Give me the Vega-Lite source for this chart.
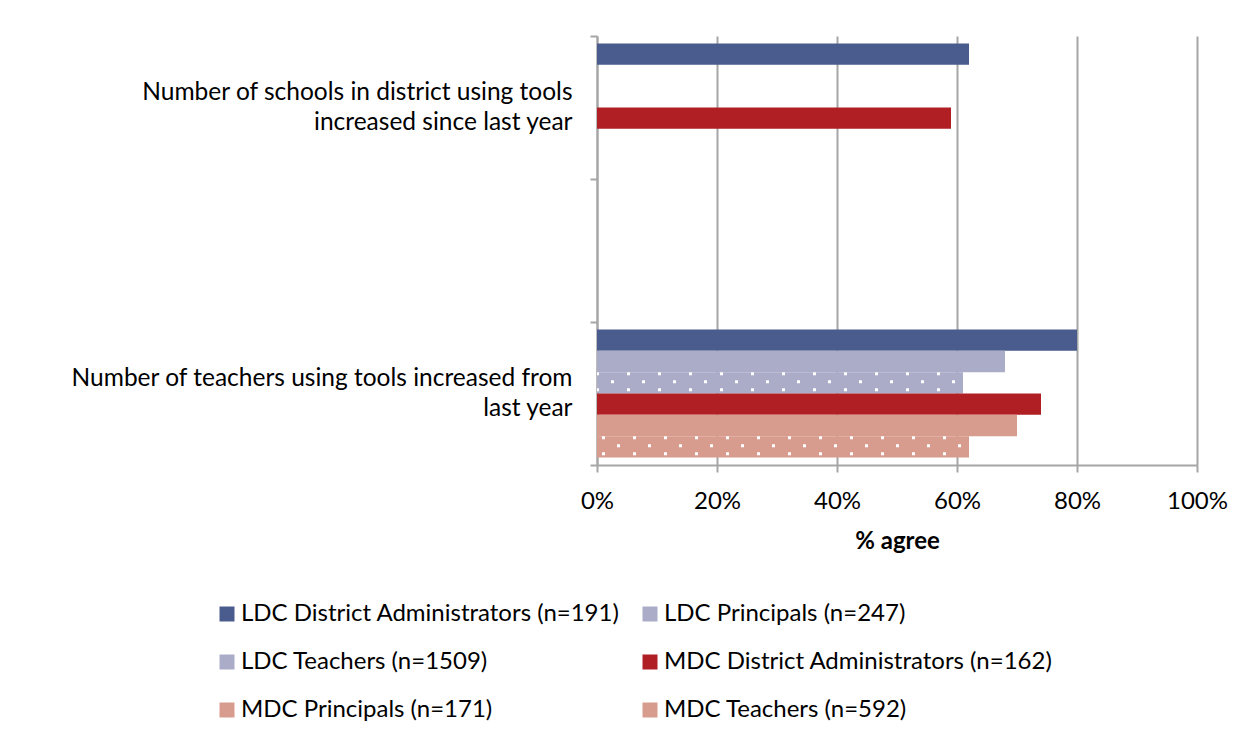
{
  "$schema": "https://vega.github.io/schema/vega-lite/v6.json",
  "width": 600,
  "height": 429,
  "autosize": {"type": "none"},
  "padding": {"left": 597, "top": 36, "right": 52, "bottom": 277},
  "background": "white",
  "config": {
    "font": "Lato",
    "view": {"stroke": null},
    "axis": {"labelColor": "#000000", "titleColor": "#000000", "domainColor": "#A6A6A6", "domainWidth": 2, "tickColor": "#A6A6A6", "tickWidth": 2, "gridColor": "#A6A6A6", "gridWidth": 2}
  },
  "data": {
    "values": [
      {"question": "Number of schools in district using tools|increased since last year", "series": "LDC District Administrators (n=191)", "value": 0.62},
      {"question": "Number of schools in district using tools|increased since last year", "series": "MDC District Administrators (n=162)", "value": 0.59},
      {"question": "Number of teachers using tools increased from|last year", "series": "LDC District Administrators (n=191)", "value": 0.80},
      {"question": "Number of teachers using tools increased from|last year", "series": "LDC Principals (n=247)", "value": 0.68},
      {"question": "Number of teachers using tools increased from|last year", "series": "LDC Teachers (n=1509)", "value": 0.61},
      {"question": "Number of teachers using tools increased from|last year", "series": "MDC District Administrators (n=162)", "value": 0.74},
      {"question": "Number of teachers using tools increased from|last year", "series": "MDC Principals (n=171)", "value": 0.70},
      {"question": "Number of teachers using tools increased from|last year", "series": "MDC Teachers (n=592)", "value": 0.62}
    ]
  },
  "layer": [
    {
      "mark": {"type": "bar"},
      "encoding": {
        "y": {
          "field": "question", "type": "nominal",
          "scale": {"domain": ["Number of schools in district using tools|increased since last year", " ", "Number of teachers using tools increased from|last year"], "paddingInner": 0, "paddingOuter": 0},
          "axis": {"title": null, "labelExpr": "split(datum.label, '|')", "labelFontSize": 24.5, "labelLineHeight": 30, "labelOffset": -15, "labelPadding": 18, "tickSize": 7, "tickBand": "extent", "grid": false, "labelLimit": 600, "labelAlign": "right"}
        },
        "yOffset": {
          "field": "series", "type": "nominal",
          "scale": {"domain": ["LDC District Administrators (n=191)", "LDC Principals (n=247)", "LDC Teachers (n=1509)", "MDC District Administrators (n=162)", "MDC Principals (n=171)", "MDC Teachers (n=592)"], "paddingInner": 0, "paddingOuter": 0.35}
        },
        "x": {
          "field": "value", "type": "quantitative",
          "scale": {"domain": [0, 1]},
          "axis": {"title": "% agree", "titleFontSize": 24, "titleFontWeight": "bold", "titlePadding": 16, "values": [0, 0.2, 0.4, 0.6, 0.8, 1], "format": ".0%", "labelFontSize": 24, "labelPadding": 17, "tickSize": 7, "grid": true, "labelFlush": false}
        },
        "color": {
          "field": "series", "type": "nominal",
          "scale": {"domain": ["LDC District Administrators (n=191)", "LDC Teachers (n=1509)", "MDC Principals (n=171)", "LDC Principals (n=247)", "MDC District Administrators (n=162)", "MDC Teachers (n=592)"], "range": ["#4A5B8E", "#ABADC8", "#D89C8E", "#ABADC8", "#B01F24", "#D89C8E"]},
          "legend": {"title": null, "orient": "none", "legendX": -382, "legendY": 566, "direction": "vertical", "columns": 2, "symbolType": "square", "symbolSize": 225, "symbolStrokeWidth": 0, "labelFontSize": 24, "labelColor": "#000000", "labelOffset": 2, "columnPadding": 18, "rowPadding": 24, "labelLimit": 600}
        }
      }
    },
    {
      "transform": [{"filter": "indexof(datum.series, 'Teachers') >= 0"}],
      "mark": {"type": "rule", "color": "white", "strokeWidth": 3, "strokeDash": [3, 28], "strokeDashOffset": 8, "strokeCap": "butt"},
      "encoding": {
        "y": {"field": "series", "type": "nominal", "axis": null, "scale": {"domain": ["LDC District Administrators (n=191)", "LDC Principals (n=247)", "LDC Teachers (n=1509)", "MDC District Administrators (n=162)", "MDC Principals (n=171)", "MDC Teachers (n=592)"], "range": [284.5, 412.5], "paddingInner": 0, "paddingOuter": 0}},
        "x": {"field": "value", "type": "quantitative"},
        "x2": {"datum": 0}
      }
    },
    {
      "transform": [{"filter": "indexof(datum.series, 'Teachers') >= 0"}],
      "mark": {"type": "rule", "color": "white", "strokeWidth": 3, "strokeDash": [3, 28], "strokeDashOffset": 23, "strokeCap": "butt"},
      "encoding": {
        "y": {"field": "series", "type": "nominal", "axis": null, "scale": {"domain": ["LDC District Administrators (n=191)", "LDC Principals (n=247)", "LDC Teachers (n=1509)", "MDC District Administrators (n=162)", "MDC Principals (n=171)", "MDC Teachers (n=592)"], "range": [292.5, 420.5], "paddingInner": 0, "paddingOuter": 0}},
        "x": {"field": "value", "type": "quantitative"},
        "x2": {"datum": 0}
      }
    },
    {
      "transform": [{"filter": "indexof(datum.series, 'Teachers') >= 0"}],
      "mark": {"type": "rule", "color": "white", "strokeWidth": 3, "strokeDash": [3, 28], "strokeDashOffset": 8, "strokeCap": "butt"},
      "encoding": {
        "y": {"field": "series", "type": "nominal", "axis": null, "scale": {"domain": ["LDC District Administrators (n=191)", "LDC Principals (n=247)", "LDC Teachers (n=1509)", "MDC District Administrators (n=162)", "MDC Principals (n=171)", "MDC Teachers (n=592)"], "range": [300.5, 428.5], "paddingInner": 0, "paddingOuter": 0}},
        "x": {"field": "value", "type": "quantitative"},
        "x2": {"datum": 0}
      }
    }
  ],
  "resolve": {"scale": {"y": "independent"}, "axis": {"y": "independent"}}
}
